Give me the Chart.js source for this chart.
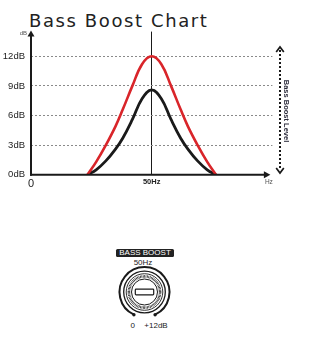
<!DOCTYPE html>
<html>
<head>
<meta charset="utf-8">
<script src="https://cdn.jsdelivr.net/npm/chart.js@4.4.1/dist/chart.umd.min.js"></script>
<style>
  html, body { margin: 0; padding: 0; background: #fff; }
  #page { position: relative; width: 332px; height: 337px; overflow: hidden; font-family: "Liberation Sans", Arial, sans-serif; color: #222; }
  #title { position: absolute; left: 29px; top: 10.8px; font: 18px/20px "DejaVu Sans", sans-serif; letter-spacing: 1.6px; color: #222; white-space: nowrap; }
  #plot { position: absolute; left: 0; top: 0; width: 332px; height: 200px; }
  #knobLabel { position: absolute; left: 116px; top: 248.5px; width: 58px; height: 8px; background: #222; border-radius: 1.5px; color: #fff; font-size: 8px; line-height: 8.5px; text-align: center; white-space: nowrap; }
  .klabel { position: absolute; font-size: 8px; line-height: 8px; color: #222; white-space: nowrap; transform: translateX(-50%); }
  #knob { position: absolute; left: 110px; top: 260px; }
</style>
</head>
<body>
<div id="page">
  <div id="title">Bass Boost Chart</div>
  <div id="plot"><canvas id="chart" width="332" height="200"></canvas></div>

  <div id="knobLabel">BASS BOOST</div>
  <div class="klabel" style="left:143px; top:259px;">50Hz</div>
  <svg id="knob" width="70" height="62" viewBox="110 260 70 62">
    <!-- outer travel arc, open at the bottom, with end-stop dots -->
    <path d="M 133.9 314.7 A 25 25 0 1 1 155.1 314.7" fill="none" stroke="#1a1a1a" stroke-width="2"/>
    <circle cx="133.9" cy="314.7" r="1.7" fill="#1a1a1a"/>
    <circle cx="155.1" cy="314.7" r="1.7" fill="#1a1a1a"/>
    <!-- knob body rings -->
    <circle cx="144.5" cy="292" r="20.8" fill="#fff" stroke="#1a1a1a" stroke-width="1.3"/>
    <circle cx="144.5" cy="292" r="18.3" fill="none" stroke="#1a1a1a" stroke-width="0.9"/>
    <circle cx="144.5" cy="292" r="15.6" fill="none" stroke="#1a1a1a" stroke-width="2.6" stroke-dasharray="0.7 0.7"/>
    <circle cx="144.5" cy="292" r="13" fill="#fff" stroke="#1a1a1a" stroke-width="1"/>
    <!-- slot -->
    <rect x="135.3" y="289.1" width="18.4" height="5.8" rx="0.8" fill="#fff" stroke="#1a1a1a" stroke-width="1.2"/>
  </svg>
  <div class="klabel" style="left:132.8px; top:322px;">0</div>
  <div class="klabel" style="left:156px; top:322px;">+12dB</div>
</div>

<script>
// Frequency positions (50 = centre frequency) and gain in dB for each curve
const freqX      = [23.4, 27, 31, 35, 38, 42, 46, 50, 54, 58, 62, 65, 69, 73, 76.6];
const maxBoostDb = [0, 1.3, 3, 4.9, 6.6, 9.0, 11.2, 12, 11.2, 9.0, 6.6, 4.9, 3, 1.3, 0];
const midBoostDb = [0, 0.5, 1.4, 2.6, 3.7, 5.6, 7.7, 8.6, 7.7, 5.6, 3.7, 2.6, 1.4, 0.5, 0];

const yTickValues = [0, 3, 6, 9, 12];
const yTickLabels = ['0dB', '3dB', '6dB', '9dB', '12dB'];
const xTickValues = [0, 50];
const xTickLabels = ['0', '50Hz'];

const toPoints = ys => freqX.map((x, i) => ({ x, y: ys[i] }));

const FONT = '"Liberation Sans", Arial, sans-serif';

// Arrowed axes, small unit labels and the "Bass Boost Level" range marker
const axisDecor = {
  id: 'axisDecor',
  afterDatasetsDraw(chart) {
    const { ctx, chartArea: { left, right, top, bottom } } = chart;
    ctx.save();
    ctx.fillStyle = '#1a1a1a';
    ctx.strokeStyle = '#1a1a1a';
    ctx.lineWidth = 2;
    ctx.lineCap = 'butt';

    // y axis with arrow
    ctx.beginPath();
    ctx.moveTo(left, bottom + 1);
    ctx.lineTo(left, top + 4);
    ctx.stroke();
    ctx.beginPath();
    ctx.moveTo(left, top - 1);
    ctx.lineTo(left - 3.5, top + 5);
    ctx.lineTo(left + 3.5, top + 5);
    ctx.closePath();
    ctx.fill();

    // x axis with arrow
    const tip = right - 2;
    ctx.beginPath();
    ctx.moveTo(left - 1, bottom);
    ctx.lineTo(tip - 5, bottom);
    ctx.stroke();
    ctx.beginPath();
    ctx.moveTo(tip, bottom);
    ctx.lineTo(tip - 6.5, bottom - 3.5);
    ctx.lineTo(tip - 6.5, bottom + 3.5);
    ctx.closePath();
    ctx.fill();

    // unit labels
    ctx.fillStyle = '#555';
    ctx.font = '6px ' + FONT;
    ctx.textAlign = 'right';
    ctx.textBaseline = 'middle';
    ctx.fillText('dB', left - 4, top + 2);
    ctx.font = '6.5px ' + FONT;
    ctx.textAlign = 'center';
    ctx.fillText('Hz', tip - 1.5, bottom + 7.5);

    // dotted double-headed level marker
    const mx = 280, y0 = 47, y1 = 173;
    ctx.strokeStyle = '#1a1a1a';
    ctx.lineWidth = 2;
    ctx.setLineDash([2, 2]);
    ctx.beginPath();
    ctx.moveTo(mx, y0 + 3);
    ctx.lineTo(mx, y1 - 3);
    ctx.stroke();
    ctx.setLineDash([]);
    ctx.lineWidth = 1.7;
    ctx.beginPath();
    ctx.moveTo(mx - 3.8, y0 + 5);
    ctx.lineTo(mx, y0);
    ctx.lineTo(mx + 3.8, y0 + 5);
    ctx.moveTo(mx - 3.8, y1 - 5);
    ctx.lineTo(mx, y1);
    ctx.lineTo(mx + 3.8, y1 - 5);
    ctx.stroke();

    // rotated caption
    ctx.translate(mx + 6.5, 111);
    ctx.rotate(Math.PI / 2);
    ctx.fillStyle = '#2a2a3a';
    ctx.font = 'bold 7.5px ' + FONT;
    ctx.textAlign = 'center';
    ctx.textBaseline = 'middle';
    ctx.fillText('Bass Boost Level', 0, 0);
    ctx.restore();
  }
};

new Chart(document.getElementById('chart'), {
  type: 'line',
  data: {
    datasets: [
      {
        label: 'Max boost',
        data: toPoints(maxBoostDb),
        borderColor: '#d9252a',
        borderWidth: 2.6,
        pointRadius: 0,
        tension: 0.4,
        fill: false
      },
      {
        label: 'Mid boost',
        data: toPoints(midBoostDb),
        borderColor: '#1a1a1a',
        borderWidth: 2.8,
        pointRadius: 0,
        tension: 0.4,
        fill: false
      }
    ]
  },
  options: {
    responsive: false,
    animation: false,
    layout: { padding: { top: 31.6, right: 59.6, left: 0, bottom: 0 } },
    plugins: {
      legend: { display: false },
      tooltip: { enabled: false },
      title: { display: false }
    },
    scales: {
      x: {
        type: 'linear',
        min: 0,
        max: 100,
        afterBuildTicks: s => { s.ticks = xTickValues.map(v => ({ value: v })); },
        afterFit: s => { s.height = 25.3; },
        border: { display: false },
        grid: {
          drawTicks: false,
          lineWidth: 1,
          color: c => (c.tick && c.tick.value === 50) ? '#1a1a1a' : 'rgba(0,0,0,0)'
        },
        ticks: {
          padding: 3,
          maxRotation: 0,
          autoSkip: false,
          color: '#222',
          callback: v => xTickLabels[xTickValues.indexOf(v)],
          font: c => (c.tick && c.tick.value === 0)
            ? { family: FONT, size: 11 }
            : { family: FONT, size: 7.5, weight: 'bold' }
        }
      },
      y: {
        type: 'linear',
        min: 0,
        max: 14.5,
        afterBuildTicks: s => { s.ticks = yTickValues.map(v => ({ value: v })); },
        afterFit: s => { s.width = 31; },
        border: { display: false, dash: [2, 2] },
        grid: {
          drawTicks: false,
          lineWidth: 1,
          color: c => (c.tick && c.tick.value === 0) ? 'rgba(0,0,0,0)' : '#8a8a8a'
        },
        ticks: {
          padding: 6,
          color: '#222',
          font: { family: FONT, size: 9.5 },
          callback: v => yTickLabels[yTickValues.indexOf(v)]
        }
      }
    }
  },
  plugins: [axisDecor]
});
</script>
</body>
</html>
